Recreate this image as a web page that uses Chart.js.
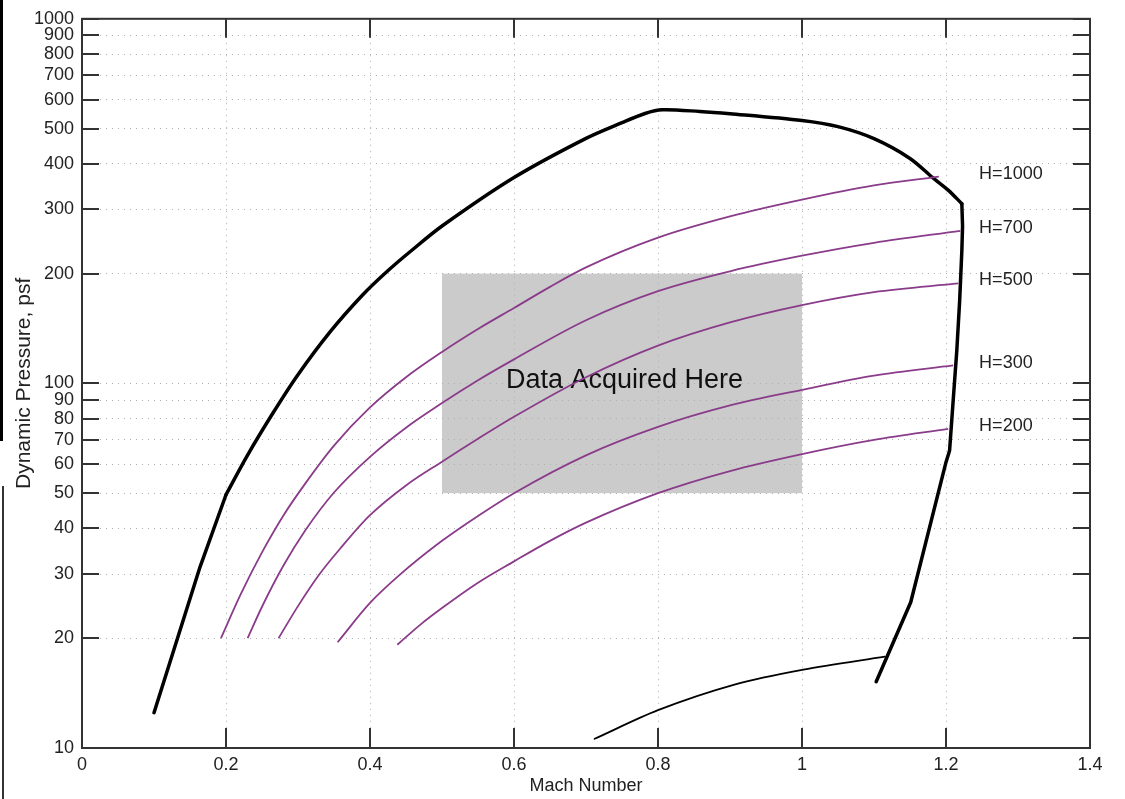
<!DOCTYPE html>
<html>
<head>
<meta charset="utf-8">
<script src="https://cdn.jsdelivr.net/npm/chart.js@4.4.1/dist/chart.umd.min.js"></script>
<style>
  html, body { margin: 0; padding: 0; background: #ffffff; }
  #wrap { position: relative; width: 1125px; height: 799px; }
  #c { display: block; }
  .scan1 { position: absolute; left: 0; top: 0; width: 3px; height: 441px; background: #000; }
  .scan2 { position: absolute; left: 2px; top: 486px; width: 2px; height: 313px; background: #333; }
</style>
</head>
<body>
<div id="wrap">
  <canvas id="c" width="1125" height="799"></canvas>
  <div class="scan1"></div>
  <div class="scan2"></div>
</div>
<script>
// ---------- DATA ----------
const machTicks = [0, 0.2, 0.4, 0.6, 0.8, 1.0, 1.2, 1.4];
const qTicks = [10, 20, 30, 40, 50, 60, 70, 80, 90, 100, 200, 300, 400, 500, 600, 700, 800, 900, 1000];

// thick envelope boundary (three pieces)
const envLeftMach = [0.10, 0.164, 0.20];
const envLeftQ    = [12.5, 31.4, 49.5];

const envTopMach = [0.20, 0.229, 0.265, 0.299, 0.344, 0.390, 0.424, 0.456, 0.501, 0.60, 0.70, 0.75, 0.782, 0.806, 0.858, 0.90, 1.00, 1.05, 1.10, 1.15, 1.182, 1.203, 1.222];
const envTopQ    = [49.5, 63.1, 82.8, 105, 138, 175, 203, 230, 271, 367, 470, 519, 550, 563, 557, 549, 526, 506, 469, 414, 366, 339, 311];

const envRightMach = [1.222, 1.223, 1.222, 1.219, 1.215, 1.21, 1.205, 1.20, 1.151, 1.103];
const envRightQ    = [311, 270, 231, 169, 123, 90, 65.5, 60.8, 25.1, 15.2];

// thin lower line
const lowMach = [0.712, 0.80, 0.905, 1.002, 1.115];
const lowQ    = [10.6, 12.7, 14.9, 16.4, 17.8];

// H curves
const h1000Mach = [0.193, 0.22, 0.25, 0.28, 0.31, 0.35, 0.40, 0.45, 0.50, 0.55, 0.60, 0.65, 0.70, 0.80, 0.90, 1.00, 1.10, 1.19];
const h1000Q    = [20, 26.3, 34.4, 43.5, 53.1, 67.5, 85.9, 104, 122, 141, 161, 184, 208, 251, 287, 319, 349, 369];

const h700Mach = [0.230, 0.25, 0.28, 0.31, 0.35, 0.40, 0.45, 0.50, 0.55, 0.60, 0.70, 0.80, 0.90, 1.00, 1.10, 1.22];
const h700Q    = [20, 24.4, 31.7, 39.5, 50.2, 62.9, 75.6, 88.3, 102, 116.4, 149, 179, 203, 224, 243, 262];

const h500Mach = [0.273, 0.30, 0.33, 0.36, 0.40, 0.45, 0.50, 0.55, 0.60, 0.70, 0.80, 0.90, 1.00, 1.10, 1.217];
const h500Q    = [20, 24.5, 30.0, 35.5, 43.5, 52.5, 61, 70.5, 81, 104, 127, 147, 164, 178, 188];

const h300Mach = [0.355, 0.40, 0.44, 0.50, 0.55, 0.60, 0.70, 0.80, 0.90, 1.00, 1.10, 1.21];
const h300Q    = [19.5, 25, 29.7, 37, 43.3, 50, 63.5, 76, 87, 96, 105, 112];

const h200Mach = [0.438, 0.47, 0.50, 0.55, 0.60, 0.65, 0.70, 0.80, 0.90, 1.00, 1.10, 1.203];
const h200Q    = [19.2, 21.8, 24.2, 28.4, 32.5, 37, 41.5, 50, 57.5, 64, 70, 75];

// shaded region and annotations
const boxMach = [0.5, 1.0];
const boxQ = [50, 200];
const boxText = 'Data Acquired Here';
const boxTextAt = [0.7535, 102];

const hLabels = ['H=1000', 'H=700', 'H=500', 'H=300', 'H=200'];
const hLabelMach = 1.246;
const hLabelQ = [374, 266, 191.5, 113.8, 76.2];

// ---------- CHART ----------
const pts = (xs, ys) => xs.map((x, i) => ({ x: x, y: ys[i] }));
const FONT = "'Liberation Sans', Arial, Helvetica, sans-serif";
const PURPLE = '#8a3c8a';

function purple(label, xs, ys) {
  return {
    label: label, data: pts(xs, ys), borderColor: PURPLE, borderWidth: 1.8,
    pointRadius: 0, fill: false, cubicInterpolationMode: 'monotone'
  };
}
function black(label, xs, ys, w, tension) {
  return {
    label: label, data: pts(xs, ys), borderColor: '#000', borderWidth: w,
    pointRadius: 0, fill: false, tension: tension, borderJoinStyle: 'round', borderCapStyle: 'round'
  };
}

const decor = {
  id: 'decor',
  beforeDraw(chart) {
    const { ctx, scales: { x, y } } = chart;
    const x0 = x.getPixelForValue(boxMach[0]), x1 = x.getPixelForValue(boxMach[1]);
    const y0 = y.getPixelForValue(boxQ[1]), y1 = y.getPixelForValue(boxQ[0]);
    ctx.save();
    ctx.fillStyle = '#cbcbcb';
    ctx.fillRect(x0, y0, x1 - x0, y1 - y0);
    ctx.restore();
  },
  beforeDatasetsDraw(chart) {
    const { ctx, scales: { x, y } } = chart;
    ctx.save();
    ctx.font = '27px ' + FONT;
    ctx.fillStyle = '#111';
    ctx.textAlign = 'center';
    ctx.textBaseline = 'middle';
    ctx.fillText(boxText, x.getPixelForValue(boxTextAt[0]), y.getPixelForValue(boxTextAt[1]));
    ctx.restore();
  },
  afterDatasetsDraw(chart) {
    const { ctx, chartArea: a, scales: { x, y } } = chart;
    ctx.save();
    ctx.strokeStyle = '#333';
    ctx.lineWidth = 2;
    ctx.beginPath();
    machTicks.forEach(v => {
      const px = Math.round(x.getPixelForValue(v));
      ctx.moveTo(px, a.bottom); ctx.lineTo(px, a.bottom - 20);
      ctx.moveTo(px, a.top); ctx.lineTo(px, a.top + 19);
    });
    qTicks.forEach(v => {
      const py = Math.round(y.getPixelForValue(v));
      ctx.moveTo(a.left, py); ctx.lineTo(a.left + 17, py);
      ctx.moveTo(a.right, py); ctx.lineTo(a.right - 17, py);
    });
    ctx.stroke();
    ctx.strokeRect(a.left, a.top, a.right - a.left, a.bottom - a.top);
    ctx.font = '18px ' + FONT;
    ctx.fillStyle = '#222';
    ctx.textAlign = 'left';
    ctx.textBaseline = 'middle';
    hLabels.forEach((t, i) => {
      ctx.fillText(t, x.getPixelForValue(hLabelMach), y.getPixelForValue(hLabelQ[i]));
    });
    ctx.restore();
  }
};

new Chart(document.getElementById('c'), {
  type: 'line',
  data: {
    datasets: [
      purple('H=1000', h1000Mach, h1000Q),
      purple('H=700', h700Mach, h700Q),
      purple('H=500', h500Mach, h500Q),
      purple('H=300', h300Mach, h300Q),
      purple('H=200', h200Mach, h200Q),
      black('lower', lowMach, lowQ, 1.8, 0.3),
      black('envelope-left', envLeftMach, envLeftQ, 3.5, 0),
      black('envelope-top', envTopMach, envTopQ, 3.5, 0.3),
      black('envelope-right', envRightMach, envRightQ, 3.5, 0)
    ]
  },
  options: {
    responsive: false,
    animation: false,
    layout: { padding: { left: 0, top: 17, right: 35, bottom: 0 } },
    plugins: { legend: { display: false }, tooltip: { enabled: false } },
    scales: {
      x: {
        type: 'linear', min: 0, max: 1.4,
        afterBuildTicks: s => { s.ticks = machTicks.map(v => ({ value: v })); },
        afterFit: s => { s.height = 51; },
        ticks: {
          padding: 6, color: '#222', font: { family: FONT, size: 18 },
          maxRotation: 0, autoSkip: false,
          callback: v => String(Number(v.toFixed(1)))
        },
        grid: { color: '#b0b0b0', lineWidth: 1, drawTicks: false },
        border: { display: false, dash: [1, 5] },
        title: { display: true, text: 'Mach Number', color: '#222', font: { family: FONT, size: 18 }, padding: { top: 0, bottom: 2 } }
      },
      y: {
        type: 'logarithmic', min: 10, max: 1000,
        afterBuildTicks: s => { s.ticks = qTicks.map(v => ({ value: v })); },
        afterFit: s => { s.width = 82; },
        ticks: {
          padding: 8, color: '#222', font: { family: FONT, size: 18 }, autoSkip: false,
          callback: v => String(v)
        },
        grid: { color: '#b0b0b0', lineWidth: 1, drawTicks: false },
        border: { display: false, dash: [1, 5] },
        title: { display: true, text: 'Dynamic Pressure, psf', color: '#222', font: { family: FONT, size: 21 }, padding: { top: 12, bottom: 0 } }
      }
    }
  },
  plugins: [decor]
});
</script>
</body>
</html>
